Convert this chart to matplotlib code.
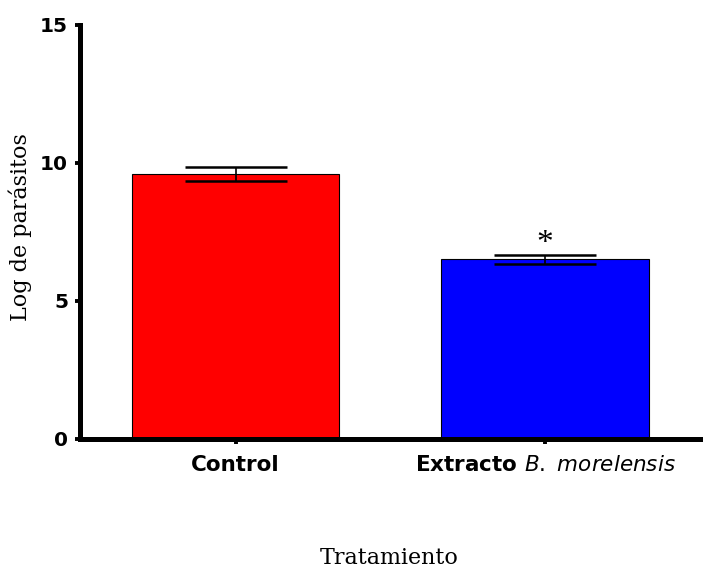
import matplotlib
matplotlib.use("Agg")
import matplotlib.pyplot as plt

# mean log parasite load per treatment, with SEM
groups = ["Control", "Extracto B. morelensis"]
means = [9.6, 6.5]
sem = [0.25, 0.16]
signif = ["", "*"]
colors = ["#ff0000", "#0000ff"]
yticks = [0, 5, 10, 15]


def tick_text(name):
    # first word bold, species name in italics
    head, _, species = name.partition(" ")
    if not species:
        return name
    return r"$\mathbf{%s}$ $\mathit{%s}$" % (head, species.replace(" ", r"\ "))


fig = plt.figure(figsize=(7.03, 5.70), dpi=100)
ax = fig.add_axes([80 / 703, 131.5 / 570, 623 / 703, 413.5 / 570])

x = list(range(len(groups)))
ax.bar(x, means, width=0.67, color=colors, edgecolor="black", linewidth=0.8, zorder=2)
ax.errorbar(x, means, yerr=sem, fmt="none", ecolor="black", elinewidth=1.2,
            capsize=37, capthick=1.8, zorder=3)

for xi, m, s, mark in zip(x, means, sem, signif):
    if mark:
        ax.annotate(mark, xy=(xi, m + s), xytext=(0, -3), textcoords="offset points",
                    ha="center", va="bottom", fontsize=24, family="Liberation Serif")

ax.set_xlim(-0.503, 1.510)
ax.set_ylim(0, 15)
ax.set_yticks(yticks)
ax.set_yticklabels([str(t) for t in yticks], fontweight="bold", family="DejaVu Sans")
ax.set_xticks(x)
ax.set_xticklabels([tick_text(g) for g in groups], fontweight="bold", family="DejaVu Sans")

ax.spines[["top", "right"]].set_visible(False)
for side in ["left", "bottom"]:
    ax.spines[side].set_linewidth(3.6)

ax.tick_params(axis="y", length=3.6, width=2.8, pad=5, labelsize=14.5)
ax.tick_params(axis="x", length=3.6, width=2.8, pad=8, labelsize=15.5)

ax.set_ylabel("Log de parásitos", family="DejaVu Serif", fontsize=16)
ax.yaxis.label.set_va("center")
ax.yaxis.set_label_coords(-0.0955, 0.512)
ax.set_xlabel("Tratamiento", family="DejaVu Serif", fontsize=16)
ax.xaxis.set_label_coords(0.497, -0.263)

fig.savefig("out.png", dpi=100)
